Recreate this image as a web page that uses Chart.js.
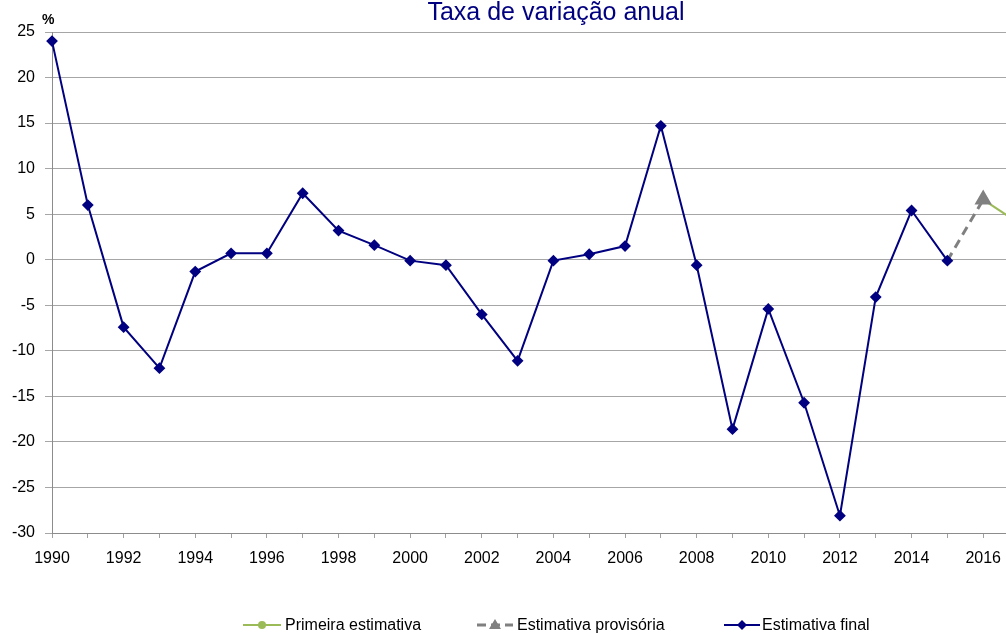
<!DOCTYPE html>
<html>
<head>
<meta charset="utf-8">
<script src="https://cdn.jsdelivr.net/npm/chart.js@4"></script>
<style>
  body { margin: 0; overflow: hidden; background: #fff; font-family: "Liberation Sans", sans-serif; }
  #wrap { position: relative; width: 1006px; height: 633px; overflow: hidden; }
  canvas { position: absolute; left: 0; top: 0; }
  #title { position: absolute; left: 0; width: 1112px; top: -1px; text-align: center; font-size: 25px; line-height: 25px; color: #000080; }
  #unit { position: absolute; left: 42px; top: 11px; font-size: 14px; font-weight: bold; color: #000; }
  .leg { position: absolute; top: 615px; height: 20px; line-height: 20px; font-size: 16px; color: #000; white-space: nowrap; }
  .leg svg { position: absolute; top: 0; }
</style>
</head>
<body>
<div id="wrap">
  <canvas id="myChart" width="1030" height="633"></canvas>
  <div id="title">Taxa de variação anual</div>
  <div id="unit">%</div>
  <div class="leg" style="left:243px">
    <svg width="38" height="20"><line x1="0" y1="10" x2="38" y2="10" stroke="#9bbb59" stroke-width="2"/><circle cx="19" cy="10" r="4" fill="#9bbb59"/></svg>
    <span style="position:absolute;left:42px">Primeira estimativa</span>
  </div>
  <div class="leg" style="left:477px">
    <svg width="36" height="20"><line x1="0" y1="10" x2="36" y2="10" stroke="#808080" stroke-width="3" stroke-dasharray="9,5"/><polygon points="18,4 24,14 12,14" fill="#808080"/></svg>
    <span style="position:absolute;left:40px">Estimativa provisória</span>
  </div>
  <div class="leg" style="left:724px">
    <svg width="36" height="20"><line x1="0" y1="10" x2="36" y2="10" stroke="#000080" stroke-width="2"/><polygon points="18,5 23,10 18,15 13,10" fill="#000080"/></svg>
    <span style="position:absolute;left:38px">Estimativa final</span>
  </div>
</div>
<script>
const years = [1990, 1991, 1992, 1993, 1994, 1995, 1996, 1997, 1998, 1999, 2000, 2001, 2002,
  2003, 2004, 2005, 2006, 2007, 2008, 2009, 2010, 2011, 2012, 2013, 2014, 2015];
const finalValues = [24.0, 6.0, -7.4, -11.9, -1.3, 0.7, 0.7, 7.3, 3.2, 1.6, -0.1, -0.6, -6.0,
  -11.1, -0.1, 0.6, 1.5, 14.7, -0.6, -18.6, -5.4, -15.7, -28.1, -4.1, 5.4, -0.1];

const provYears = [2015, 2016];
const provValues = [-0.1, 6.6];

const firstYears = [2016, 2017];
const firstValues = [6.6, 4.0];

const yTicks = { min: -30, max: 25, step: 5 };

const toPoints = (xs, ys) => xs.map((x, i) => ({ x: x, y: ys[i] }));

const tickFont = { family: "Liberation Sans", size: 16 };

new Chart(document.getElementById("myChart"), {
  type: "line",
  data: {
    datasets: [
      {
        label: "Estimativa final",
        data: toPoints(years, finalValues),
        borderColor: "#000080",
        backgroundColor: "#000080",
        borderWidth: 2,
        pointStyle: "rectRot",
        pointRadius: 4.5,
        tension: 0,
        clip: false,
      },
      {
        label: "Estimativa provisória",
        data: toPoints(provYears, provValues),
        borderColor: "#808080",
        backgroundColor: "#808080",
        borderWidth: 3,
        borderDash: [9, 6],
        pointStyle: "triangle",
        pointRadius: [0, 7],
        clip: false,
      },
      {
        label: "Primeira estimativa",
        data: toPoints(firstYears, firstValues),
        borderColor: "#9bbb59",
        backgroundColor: "#9bbb59",
        borderWidth: 2,
        pointStyle: "circle",
        pointRadius: [0, 5],
      },
    ],
  },
  options: {
    responsive: false,
    animation: false,
    layout: { padding: { top: 32, right: 10, left: 0, bottom: 0 } },
    plugins: {
      legend: { display: false },
      title: { display: false },
      tooltip: { enabled: false },
    },
    scales: {
      x: {
        type: "linear",
        min: 1990,
        max: 2017,
        afterFit: (scale) => { scale.height = 100; },
        grid: { drawOnChartArea: false, drawTicks: true, tickLength: 5, color: "#a0a0a0" },
        border: { color: "#8c8c8c", width: 1 },
        ticks: {
          stepSize: 1,
          autoSkip: false,
          maxRotation: 0,
          padding: 11,
          color: "#000",
          font: tickFont,
          callback: (v) => (v % 2 === 0 ? String(v) : ""),
        },
      },
      y: {
        type: "linear",
        min: yTicks.min,
        max: yTicks.max,
        afterFit: (scale) => { scale.width = 52; },
        grid: { color: "#a6a6a6", lineWidth: 1, tickLength: 7 },
        border: { color: "#8c8c8c", width: 1 },
        ticks: {
          stepSize: yTicks.step,
          padding: 10,
          color: "#000",
          font: tickFont,
        },
      },
    },
  },
});
</script>
</body>
</html>
